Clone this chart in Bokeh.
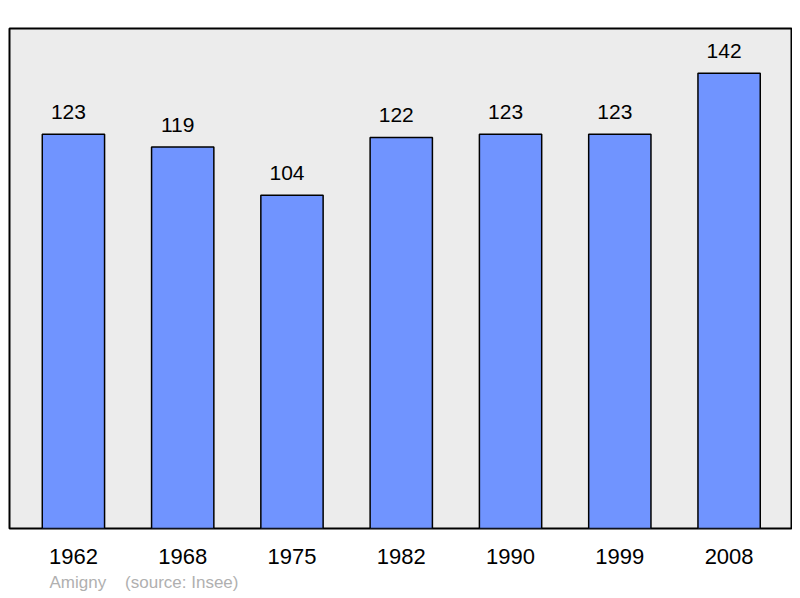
from bokeh.plotting import figure
from bokeh.models import Range1d, FixedTicker, ColumnDataSource, Title
from bokeh.core.properties import value
from bokeh.embed import file_html
from bokeh.resources import INLINE

years = ["1962", "1968", "1975", "1982", "1990", "1999", "2008"]
population = [123, 119, 104, 122, 123, 123, 142]
place = "Amigny"
source_note = "(source: Insee)"

idx = list(range(len(years)))
src = ColumnDataSource(dict(x=idx, top=population, label=[str(v) for v in population]))

p = figure(frame_width=782, frame_height=500,
           x_range=Range1d(-0.585, 6.571), y_range=Range1d(0, 156),
           output_backend="svg", toolbar_location=None,
           min_border_left=9, min_border_right=1, min_border_top=28, min_border_bottom=0)
p.background_fill_color = "#ececec"
p.border_fill_color = "white"
p.outline_line_color = "black"
p.outline_line_width = 2
p.grid.visible = False
p.yaxis.visible = False

p.vbar(x='x', top='top', width=0.57, bottom=0, source=src,
       fill_color="#7094ff", line_color="black", line_width=1.5)
p.text(x='x', y='top', text='label', source=src, text_align="center",
       text_baseline="alphabetic", y_offset=-22, x_offset=-5,
       text_font=value("Liberation Sans"), text_font_size="21px", text_color="black")

ax = p.xaxis[0]
ax.ticker = FixedTicker(ticks=idx)
ax.major_label_overrides = {i: y for i, y in zip(idx, years)}
ax.axis_line_color = None
ax.major_tick_line_color = None
ax.minor_tick_line_color = None
ax.major_tick_out = 0
ax.major_tick_in = 0
ax.major_label_standoff = 20
ax.major_label_text_font = "Liberation Sans"
ax.major_label_text_font_size = "22px"
ax.major_label_text_color = "black"

p.add_layout(Title(text=place + "\u00a0" * 4 + source_note, align="left", offset=40,
                   text_font="Liberation Sans", text_font_size="17px",
                   text_font_style="normal", text_color="#b0b0b0", standoff=9), "below")

open("out.html", "w").write(file_html(p, INLINE))
